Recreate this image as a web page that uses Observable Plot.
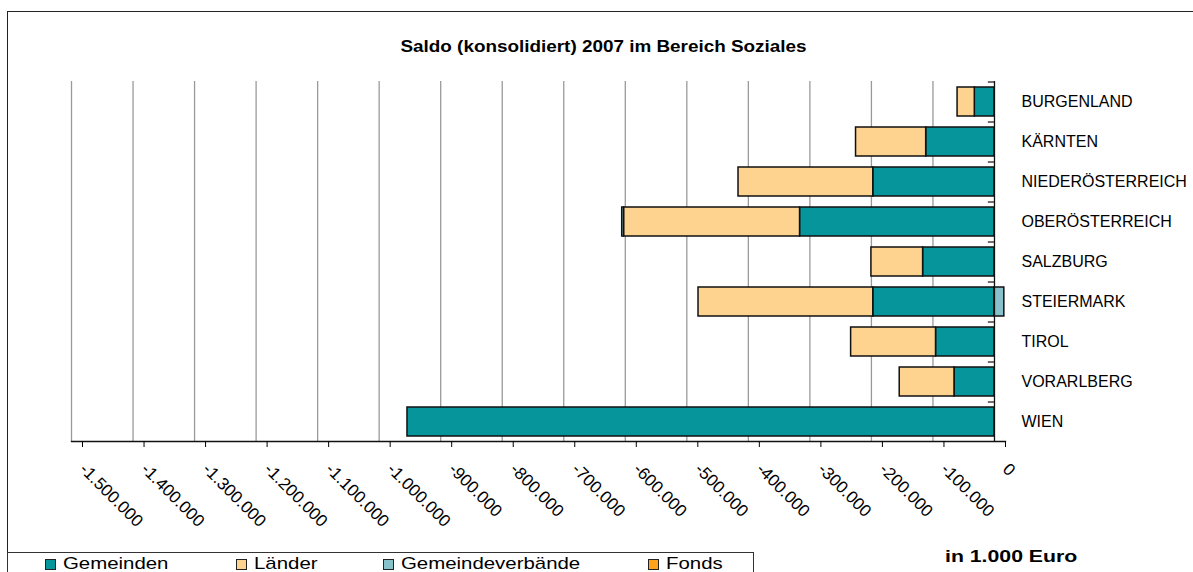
<!DOCTYPE html>
<html><head><meta charset="utf-8">
<script src="https://cdn.jsdelivr.net/npm/d3@7"></script>
<script src="https://cdn.jsdelivr.net/npm/@observablehq/plot@0.6"></script>
<style>
body{margin:0;background:#fff;font-family:"Liberation Sans",Arial,sans-serif;}
#wrap{position:relative;width:1193px;height:572px;overflow:hidden;background:#fff;}
#border{position:absolute;left:7px;top:11px;width:1300px;height:700px;border:1px solid #222;box-sizing:border-box;}
#title{position:absolute;left:7px;top:39px;width:1193px;text-align:center;font-weight:bold;font-size:16px;line-height:16px;transform:scaleX(1.18);transform-origin:center;white-space:nowrap;}
#chart{position:absolute;left:0;top:0;}
#legend{position:absolute;left:7px;top:552px;width:747px;height:100px;border:1px solid #333;box-sizing:border-box;}
.item{position:absolute;top:0;height:40px;}
.sw{position:absolute;top:6px;width:11px;height:11px;border:1px solid #222;box-sizing:border-box;}
.lt{position:absolute;left:18px;top:2px;font-size:17px;line-height:17px;white-space:nowrap;transform:scaleX(1.2);transform-origin:left;}
#unit{position:absolute;left:945px;top:548px;font-weight:bold;font-size:17px;line-height:17px;white-space:nowrap;transform:scaleX(1.25);transform-origin:left;}
</style></head>
<body>
<div id="wrap">
  <div id="border"></div>
  <div id="chart"></div>
  <div id="title"></div>
  <div id="legend"></div>
  <div id="unit"></div>
</div>
<script>
const titleText = "Saldo (konsolidiert) 2007 im Bereich Soziales";
const unitText = "in 1.000 Euro";
const regions = ["BURGENLAND","KÄRNTEN","NIEDERÖSTERREICH","OBERÖSTERREICH","SALZBURG","STEIERMARK","TIROL","VORARLBERG","WIEN"];
const series = ["Gemeinden","Länder","Gemeindeverbände","Fonds"];
const colors = ["#07959c","#fed28f","#86c1cc","#ffa21c"];
const gemeinden = [-32000,-111000,-197000,-316000,-116000,-197000,-95000,-65000,-954000];
const laender = [-28000,-114000,-219000,-286000,-84000,-284000,-138000,-89000,0];
const gemeindeverbaende = [0,0,0,-3000,0,16000,0,0,0];
const fonds = [0,0,0,0,0,0,0,0,0];
const xTicks = [-1500000,-1400000,-1300000,-1200000,-1100000,-1000000,-900000,-800000,-700000,-600000,-500000,-400000,-300000,-200000,-100000,0];
const legendLefts = [37, 228, 375, 640];

const seriesValues = [gemeinden, laender, gemeindeverbaende, fonds];
const rows = [];
regions.forEach((r, i) => {
  series.forEach((s, j) => {
    const v = seriesValues[j][i];
    if (v !== 0) rows.push({region: r, series: s, value: v});
  });
});

const fmt = d3.formatLocale({decimal: ",", thousands: ".", grouping: [3], currency: ["", " €"], minus: "-"}).format(",d");

const chart = Plot.plot({
  width: 1193,
  height: 545,
  marginLeft: 71,
  marginRight: 188,
  marginTop: 81,
  marginBottom: 104,
  style: {fontFamily: "Liberation Sans, Arial, sans-serif", fontSize: "17px", color: "#000", background: "transparent", overflow: "visible"},
  x: {domain: [-1500000, 17900]},
  y: {domain: regions, paddingInner: 0.28, paddingOuter: 0.14},
  color: {domain: series, range: colors},
  marks: [
    Plot.gridX(xTicks.slice(0, -1), {stroke: "#9a9a9a", strokeOpacity: 1, strokeWidth: 1.3}),
    Plot.barX(rows, {x: "value", y: "region", fill: "series", stroke: "#111", strokeWidth: 1.5}),
    Plot.ruleX([0], {stroke: "#111", strokeWidth: 1.3}),
    Plot.frame({anchor: "bottom", stroke: "#111", strokeWidth: 1.3}),
    Plot.ruleY(regions, {y: d => d, x1: 0, x2: -10000, dy: -20, stroke: "#111", strokeWidth: 1.2}),
    Plot.axisX({ticks: xTicks, tickFormat: fmt, tickSize: 6, tickRotate: 45, tickPadding: 19, dx: 11, label: null, fontSize: 17}),
    Plot.axisY({anchor: "right", tickSize: 0, tickPadding: 16, label: null, fontSize: 16})
  ]
});
document.getElementById("chart").appendChild(chart);
document.getElementById("title").textContent = titleText;
document.getElementById("unit").textContent = unitText;
const legend = document.getElementById("legend");
series.forEach((s, i) => {
  const it = document.createElement("div");
  it.className = "item";
  it.style.left = legendLefts[i] + "px";
  const sw = document.createElement("div");
  sw.className = "sw";
  sw.style.background = colors[i];
  const lt = document.createElement("div");
  lt.className = "lt";
  lt.textContent = s;
  it.appendChild(sw); it.appendChild(lt);
  legend.appendChild(it);
});
</script>
</body></html>
